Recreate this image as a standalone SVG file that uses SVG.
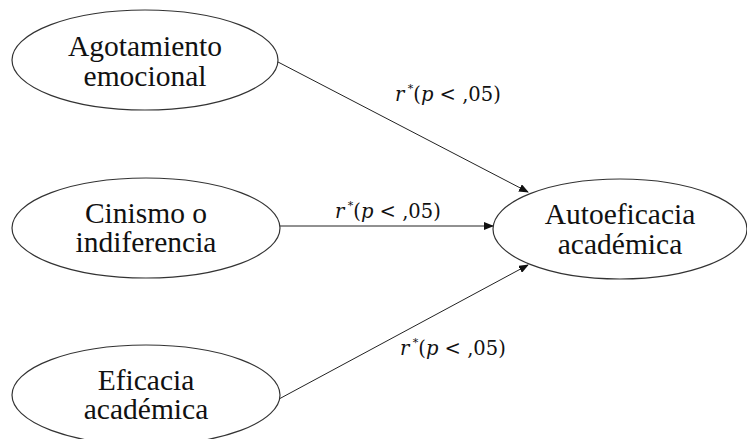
<svg xmlns="http://www.w3.org/2000/svg" width="747" height="439" viewBox="0 0 747 439">
<style>
.n{fill:#fff;stroke:#333;stroke-width:1.2}
.c{stroke:#222;stroke-width:1;fill:none;marker-end:url(#a)}
</style>
<defs>
<marker id="a" markerWidth="10" markerHeight="8" refX="9" refY="4" orient="auto" markerUnits="userSpaceOnUse">
<path d="M0,0 L10,4 L0,8 Z" fill="#111"/>
</marker>
</defs>
<rect width="747" height="439" fill="#fff"/>
<g id="connectors">
<line class="c" x1="278" y1="62" x2="528" y2="192"/>
<line class="c" x1="280" y1="226" x2="493" y2="226"/>
<line class="c" x1="279" y1="399" x2="528" y2="265"/>
</g>
<g font-family="Liberation Serif, DejaVu Serif, serif" font-size="29.5" fill="#111" text-anchor="middle">
<g id="n1"><ellipse class="n" cx="145" cy="60" rx="133" ry="50"/>
<text x="145" y="56">Agotamiento</text><text x="145" y="86">emocional</text></g>
<g id="n2"><ellipse class="n" cx="146" cy="228" rx="134" ry="50"/>
<text x="146" y="223">Cinismo o</text><text x="146" y="252">indiferencia</text></g>
<g id="n3"><ellipse class="n" cx="146" cy="395" rx="134" ry="50"/>
<text x="146" y="390">Eficacia</text><text x="146" y="419">académica</text></g>
<g id="n4"><ellipse class="n" cx="620" cy="229" rx="127" ry="50"/>
<text x="620" y="224">Autoeficacia</text><text x="620" y="254">académica</text></g>
</g>
<g id="labels" font-family="DejaVu Serif, serif" font-size="19.5" fill="#111">
<text x="395" y="101"><tspan font-style="italic">r</tspan><tspan font-size="11" dy="-9"> *</tspan><tspan dy="9">(</tspan><tspan font-style="italic">p</tspan> &lt; ,05)</text>
<text x="335" y="218"><tspan font-style="italic">r</tspan><tspan font-size="11" dy="-9"> *</tspan><tspan dy="9">(</tspan><tspan font-style="italic">p</tspan> &lt; ,05)</text>
<text x="400" y="355"><tspan font-style="italic">r</tspan><tspan font-size="11" dy="-9"> *</tspan><tspan dy="9">(</tspan><tspan font-style="italic">p</tspan> &lt; ,05)</text>
</g>
</svg>
